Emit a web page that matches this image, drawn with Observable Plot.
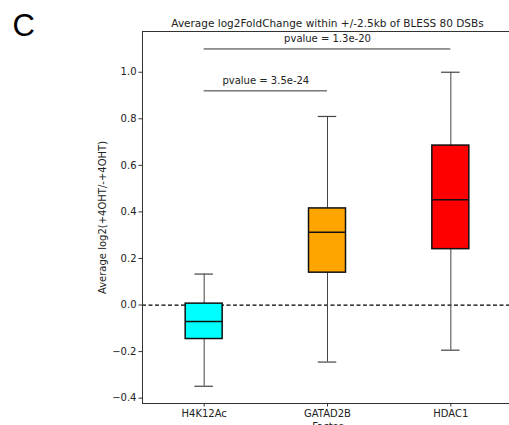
<!DOCTYPE html>
<html>
<head>
<meta charset="utf-8">
<script src="https://cdn.jsdelivr.net/npm/d3@7"></script>
<script src="https://cdn.jsdelivr.net/npm/@observablehq/plot@0.6"></script>
<style>
  html, body { margin: 0; padding: 0; background: #fff; }
  svg { display: block; }
</style>
</head>
<body>
<div id="chart"></div>
<script>
const categories = ["H4K12Ac", "GATAD2B", "HDAC1"];
const colors = ["#00FFFF", "#FFA500", "#FF0000"];
const whiskerLow = [-0.349, -0.245, -0.194];
const q1 = [-0.146, 0.139, 0.240];
const median = [-0.071, 0.313, 0.452];
const q3 = [0.006, 0.415, 0.685];
const whiskerHigh = [0.133, 0.810, 1.000];
const yTicks = [-0.4, -0.2, 0.0, 0.2, 0.4, 0.6, 0.8, 1.0];
const comparisons = [
  {from: 1, to: 2, y: 0.92, label: "pvalue = 3.5e-24"},
  {from: 1, to: 3, y: 1.10, label: "pvalue = 1.3e-20"}
];
const title = "Average log2FoldChange within +/-2.5kb of BLESS 80 DSBs";
const yLabel = "Average log2(+4OHT/-+4OHT)";
const xLabel = "Factor";
const panelLetter = "C";

const boxWidth = 0.3;
const capWidth = 0.15;

const data = categories.map((c, i) => ({
  cat: c, pos: i + 1, color: colors[i],
  lo: whiskerLow[i], q1: q1[i], med: median[i], q3: q3[i], hi: whiskerHigh[i]
}));

const font = "DejaVu Sans, sans-serif";
const fmt = d => d3.format(".1f")(d).replace("-", "\u2212");

const chart = Plot.plot({
  width: 509,
  height: 425,
  marginLeft: 142,
  marginRight: -3,
  marginTop: 31,
  marginBottom: 22,
  style: {fontFamily: font, fontSize: "10px", color: "#222", background: "#fff"},
  x: {type: "linear", domain: [0.5, 3.5], axis: null},
  y: {domain: [-0.423, 1.175], axis: null},
  marks: [
    // zero reference line
    Plot.ruleY([0], {stroke: "#000", strokeWidth: 1.2, strokeDasharray: "4,2.5"}),
    // whiskers
    Plot.ruleX(data, {x: "pos", y1: "q3", y2: "hi", stroke: "#444", strokeWidth: 1}),
    Plot.ruleX(data, {x: "pos", y1: "lo", y2: "q1", stroke: "#444", strokeWidth: 1}),
    Plot.ruleY(data, {y: "hi", x1: d => d.pos - capWidth / 2, x2: d => d.pos + capWidth / 2, stroke: "#444", strokeWidth: 1.2}),
    Plot.ruleY(data, {y: "lo", x1: d => d.pos - capWidth / 2, x2: d => d.pos + capWidth / 2, stroke: "#444", strokeWidth: 1.2}),
    // boxes
    Plot.rect(data, {x1: d => d.pos - boxWidth / 2, x2: d => d.pos + boxWidth / 2, y1: "q1", y2: "q3",
      fill: "color", stroke: "#111", strokeWidth: 1.5}),
    Plot.ruleY(data, {y: "med", x1: d => d.pos - boxWidth / 2, x2: d => d.pos + boxWidth / 2, stroke: "#111", strokeWidth: 1.5}),
    // significance bars
    Plot.ruleY(comparisons, {y: "y", x1: "from", x2: "to", stroke: "#333", strokeWidth: 1}),
    Plot.text(comparisons, {x: d => (d.from + d.to) / 2, y: "y", text: "label", dy: -10, fontSize: 10, fill: "#222"}),
    // frame
    Plot.frame({stroke: "#333", strokeWidth: 1}),
    // axes
    Plot.axisY(yTicks, {tickSize: 3.5, tickPadding: 2.5, tickFormat: fmt, fontSize: 10, stroke: "#333", fill: "#222", label: null}),
    Plot.axisX([1, 2, 3], {tickSize: 3.5, tickPadding: 3, tickFormat: i => categories[i - 1], fontSize: 10, stroke: "#333", fill: "#222", label: null}),
    // labels
    Plot.text([yLabel], {frameAnchor: "left", dx: -40, rotate: -90, textAnchor: "middle", fontSize: 10, fill: "#222"}),
    Plot.text([xLabel], {frameAnchor: "bottom", dy: 19, lineAnchor: "top", fontSize: 10, fill: "#222"}),
    Plot.text([title], {frameAnchor: "top", dy: -12, fontSize: 10.5, fill: "#222"}),
    Plot.text([panelLetter], {frameAnchor: "top-left", dx: -130, dy: -18, lineAnchor: "top", textAnchor: "start",
      fontSize: 31, fontFamily: "Liberation Sans, Arial, sans-serif", fill: "#000"})
  ]
});
document.getElementById("chart").appendChild(chart);
</script>
</body>
</html>
